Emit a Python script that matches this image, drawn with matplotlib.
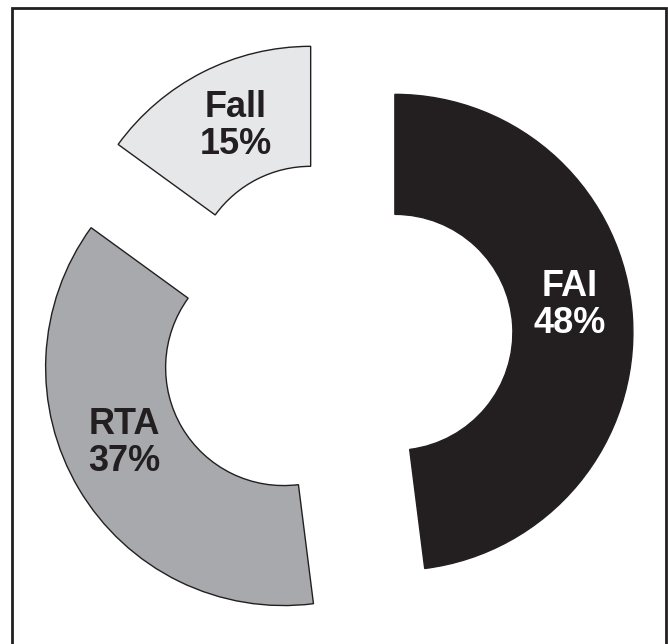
import matplotlib
matplotlib.use("Agg")
import matplotlib.pyplot as plt
from matplotlib.patches import Rectangle

categories = ["FAI", "RTA", "Fall"]
values = [48, 37, 15]
colors = ["#231f20", "#a7a9ac", "#e6e7e8"]
text_colors = ["white", "#231f20", "#231f20"]

W, H = 668, 644
R = 238
explode = [58 / R, 62 / R, 58 / R]  # fraction of radius

fig = plt.figure(figsize=(W / 100, H / 100), dpi=100)
ax = fig.add_axes([0, 0, 1, 1])

cx, cy = 337, H - 336
wedges, _ = ax.pie(values, colors=colors, startangle=90, counterclock=False,
                   explode=[e * R for e in explode], radius=R, center=(cx, cy),
                   wedgeprops=dict(width=120, edgecolor="#231f20", linewidth=1.0))
ax.set_xlim(0, W)
ax.set_ylim(0, H)
ax.set_aspect("equal")
ax.axis("off")

label_pos = [(570, H - 305), (124, H - 443), (236, H - 126)]
for cat, v, (x, y), tc in zip(categories, values, label_pos, text_colors):
    ax.text(x, y, f"{cat}\n{v}%", ha="center", va="center", fontsize=26,
            fontweight="bold", color=tc, family="Liberation Sans", linespacing=1.1)

fig.patches.append(Rectangle((11.5 / W, -0.02), (666 - 11.5) / W, 1.02 - 7.5 / H,
                             transform=fig.transFigure, fill=False,
                             edgecolor="#231f20", linewidth=2.0))

fig.savefig("out.png", dpi=100, facecolor="white")
